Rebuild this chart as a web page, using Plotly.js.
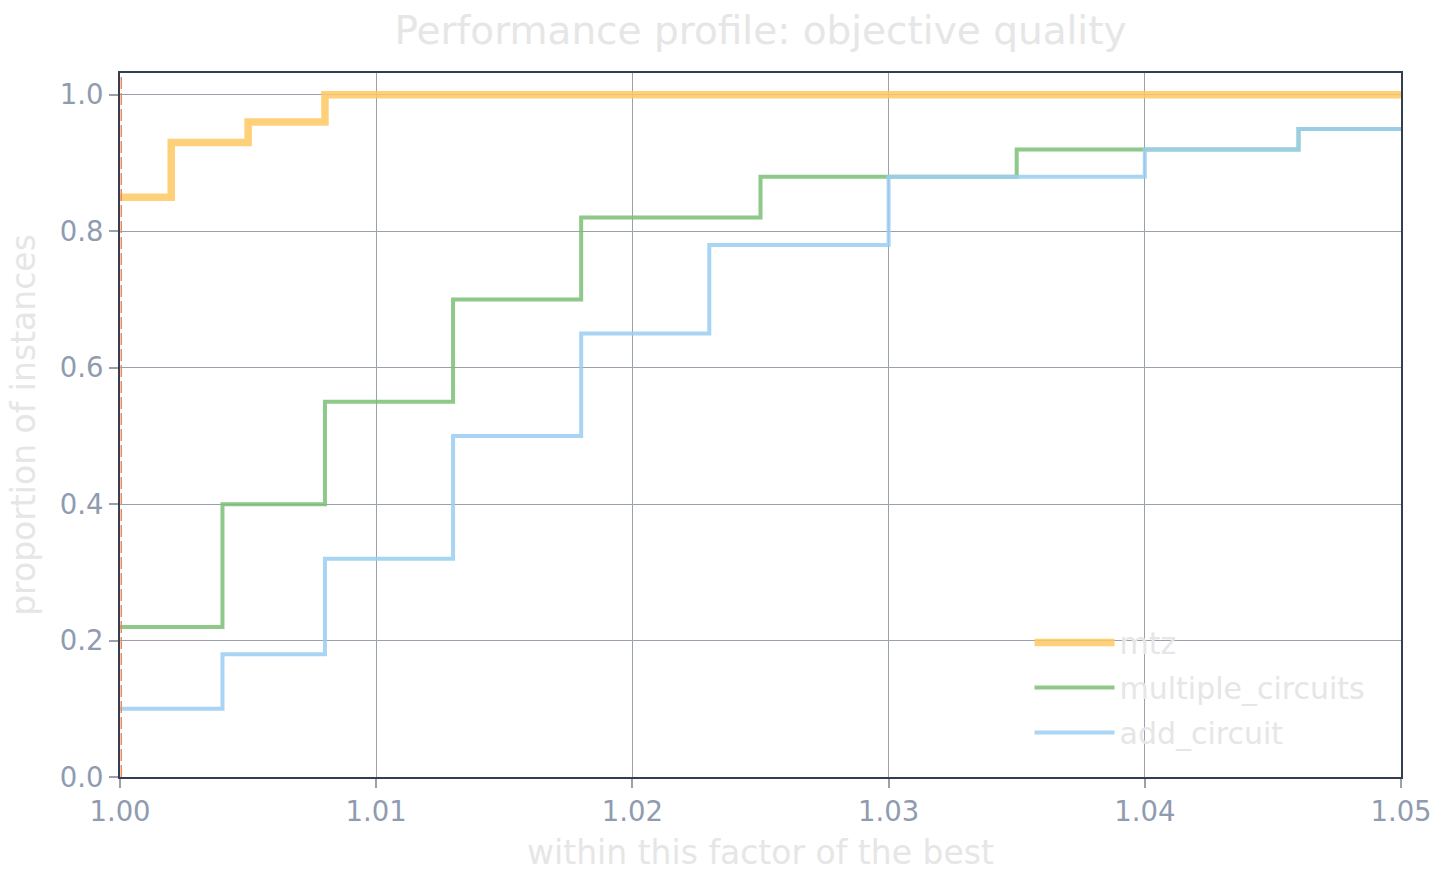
<!DOCTYPE html>
<html>
<head>
<meta charset="utf-8">
<script src="https://cdn.plot.ly/plotly-3.0.1.min.js"></script>
<style>html,body{margin:0;padding:0;background:#fff;}#chart{width:1444px;height:881px;}</style>
</head>
<body>
<div id="chart"></div>
<script>
const seriesNames = ["mtz", "multiple_circuits", "add_circuit"];
const mtzX = [1.000, 1.002, 1.005, 1.008, 1.050];
const mtzY = [0.85, 0.93, 0.96, 1.00, 1.00];
const multipleX = [1.000, 1.004, 1.008, 1.013, 1.018, 1.025, 1.035, 1.040, 1.046, 1.050];
const multipleY = [0.22, 0.40, 0.55, 0.70, 0.82, 0.88, 0.92, 0.92, 0.95, 0.95];
const addX = [1.000, 1.004, 1.008, 1.013, 1.018, 1.023, 1.030, 1.040, 1.046, 1.050];
const addY = [0.10, 0.18, 0.32, 0.50, 0.65, 0.78, 0.88, 0.92, 0.95, 0.95];
const xTicks = [1.00, 1.01, 1.02, 1.03, 1.04, 1.05];
const yTicks = [0.0, 0.2, 0.4, 0.6, 0.8, 1.0];

const font = "DejaVu Sans, sans-serif";
const traces = [
  {x: mtzX, y: mtzY, name: seriesNames[0], mode: "lines", legendgroup: "a",
   line: {shape: "hv", color: "rgb(255,200,99)", width: 7.5}, opacity: 0.85},
  {x: multipleX, y: multipleY, name: seriesNames[1], mode: "lines", legendgroup: "b",
   line: {shape: "hv", color: "rgb(123,192,118)", width: 4}, opacity: 0.85},
  {x: addX, y: addY, name: seriesNames[2], mode: "lines", legendgroup: "c",
   line: {shape: "hv", color: "rgb(156,207,243)", width: 4}, opacity: 0.857}
];

const axisCommon = {
  showline: true, mirror: true, linecolor: "#333f50", linewidth: 2,
  showgrid: true, gridcolor: "#9aa1ac", gridwidth: 1,
  ticks: "outside", ticklen: 9, tickwidth: 1.5, tickcolor: "#9aa1ac",
  tickfont: {family: font, size: 27.5, color: "#8f9bb0"},
  zeroline: false
};

const layout = {
  width: 1444, height: 881,
  paper_bgcolor: "#ffffff", plot_bgcolor: "#ffffff",
  margin: {l: 120, r: 43, t: 73, b: 104},
  font: {family: font},
  title: {text: "Performance profile: objective quality", xref: "paper", x: 0.5, xanchor: "center",
          y: 0.966, yanchor: "middle",
          font: {family: font, size: 39, color: "#e6e6e6"}},
  xaxis: Object.assign({}, axisCommon, {
    range: [1.0, 1.05], tickvals: xTicks, ticktext: xTicks.map(v => v.toFixed(2)),
    title: {text: "within this factor of the best", standoff: 15,
            font: {family: font, size: 33, color: "#e6e6e6"}}
  }),
  yaxis: Object.assign({}, axisCommon, {
    range: [0, 1.032], tickvals: yTicks, ticktext: yTicks.map(v => v.toFixed(1)),
    title: {text: "proportion of instances", standoff: 14,
            font: {family: font, size: 33, color: "#e6e6e6"}}
  }),
  showlegend: true,
  legend: {x: 0.71, y: 0.127, xanchor: "left", yanchor: "middle",
           bgcolor: "rgba(0,0,0,0)", borderwidth: 0, itemwidth: 80,
           font: {family: font, size: 30, color: "#e6e6e6"}, tracegroupgap: 3},
  shapes: [
    {type: "line", xref: "x", yref: "paper", x0: 1.00005, x1: 1.00005, y0: 0, y1: 1,
     line: {color: "#f0875a", width: 1.5, dash: "12px,4px"}, layer: "above"}
  ]
};

Plotly.newPlot("chart", traces, layout, {displayModeBar: false, responsive: false});
</script>
</body>
</html>
